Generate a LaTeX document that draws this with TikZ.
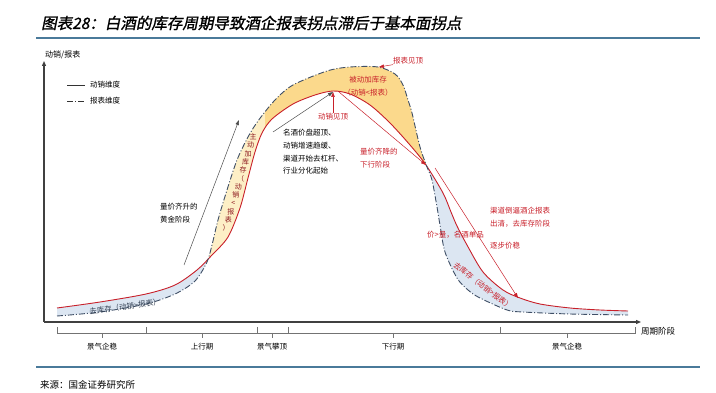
\documentclass[tikz,border=0pt]{standalone}
\usepackage{fontspec}
\setmainfont{Noto Sans CJK SC}
\newfontfamily\titlefont[FakeSlant=0.2,FakeBold=1.2]{Noto Sans CJK SC}
\usetikzlibrary{arrows.meta,positioning,calc}
\definecolor{barblue}{HTML}{4A7A9A}
\definecolor{salesred}{HTML}{C8202A}
\definecolor{rptnavy}{HTML}{3F4F66}
\definecolor{destock}{HTML}{DCE6F2}
\definecolor{activeyel}{HTML}{FDEFC6}
\definecolor{passiveyel}{HTML}{FBD98C}
\definecolor{axisgray}{HTML}{404040}
\tikzset{
  sales/.style={salesred, line width=0.9pt},
  report/.style={rptnavy, line width=0.9pt, dash pattern=on 6pt off 2pt on 1pt off 2pt},
  axis/.style={axisgray, line width=1.1pt, -{Triangle[length=5pt,width=4pt]}},
  brk/.style={black!55, line width=0.7pt},
  lbl/.style={font=\fontsize{7.5}{12.7}\selectfont, inner sep=0pt, align=left},
  redlbl/.style={lbl, text=salesred},
  ptr/.style={black!70, line width=0.5pt, -{Triangle[length=5pt,width=3.5pt]}},
  redptr/.style={salesred, line width=0.5pt, -{Triangle[length=5pt,width=3.5pt]}},
}

\begin{document}
\begin{tikzpicture}[x=1pt,y=-1pt]
  \useasboundingbox (0,0) rectangle (716,393);
  % title and frame lines
  \node[anchor=west, font=\titlefont\fontsize{15.5}{18}\selectfont, inner sep=0pt] (title) at (41,23) {图表28：白酒的库存周期导致酒企报表拐点滞后于基本面拐点};
  \draw[barblue, line width=2.2pt] (36,38) -- (700,38);
  \draw[barblue, line width=1.8pt] (36,367) -- (700,367);
  \node[anchor=west, font=\fontsize{9.5}{11}\selectfont, inner sep=0pt] (source) at (40,385) {来源：国金证券研究所};

  % the band between the two curves
  \path[save path=\bandpath] plot[smooth] coordinates {(57,308) (100,302) (146,294) (175,285) (197,270) (212,255) (228,237) (240,208) (248,178) (255,152) (262,133) (272,119) (293,104) (315,95) (333,91) (350,94) (370,105) (390,123) (410,145) (426,165) (443,193) (451,212) (457,226) (467,245) (483,272) (503,290) (520,298) (540,304) (570,308) (600,310) (628,311)}
    -- plot[smooth] coordinates {(628,315) (570,314) (523,312) (507,310) (480,298) (468,290) (457,278) (445,252) (440,225) (437,207) (432,180) (427,167) (420,147) (412,113) (408,100) (403,85) (395,74) (378,67) (350,67) (327,71) (293,85) (275,100) (258,121) (248,137) (237,160) (227,190) (218,220) (212,245) (207,262) (195,281) (175,294) (146,304) (100,312) (57,316)} -- cycle;
  \begin{scope}
    \clip (0,0) rectangle (206,393) (426,0) rectangle (716,393);
    \path[use path=\bandpath, fill=destock];
  \end{scope}
  \begin{scope}
    \clip (206,0) rectangle (265,393);
    \path[use path=\bandpath, fill=activeyel];
  \end{scope}
  \begin{scope}
    \clip (265,0) rectangle (426,393);
    \path[use path=\bandpath, fill=passiveyel];
  \end{scope}

  % sales curve and report curve
  \draw[sales] plot[smooth] coordinates {(57,308) (100,302) (146,294) (175,285) (197,270) (212,255) (228,237) (240,208) (248,178) (255,152) (262,133) (272,119) (293,104) (315,95) (333,91) (350,94) (370,105) (390,123) (410,145) (426,165) (443,193) (451,212) (457,226) (467,245) (483,272) (503,290) (520,298) (540,304) (570,308) (600,310) (628,311)};
  \draw[report] plot[smooth] coordinates {(57,316) (100,312) (146,304) (175,294) (195,281) (207,262) (212,245) (218,220) (227,190) (237,160) (248,137) (258,121) (275,100) (293,85) (327,71) (350,67) (378,67) (395,74) (403,85) (408,100) (412,113) (420,147) (427,167) (432,180) (437,207) (440,225) (445,252) (457,278) (468,290) (480,298) (507,310) (523,312) (570,314) (628,315)};

  % axes
  \coordinate (origin) at (44,322);
  \coordinate (ytop) at (44,61);
  \coordinate (xend) at (641,322);
  \draw[axis] (origin) -- (ytop);
  \draw[axis] (origin) -- (xend);
  \node[lbl, anchor=west, font=\fontsize{8}{10}\selectfont] (ylabel) at (45,55) {动销/报表};
  \node[lbl, anchor=west, font=\fontsize{8.5}{10}\selectfont] (xlabel) at (641,331) {周期阶段};

  % legend
  \draw[black!80, line width=0.8pt] (67,85) -- (85,85);
  \node[lbl, anchor=west] (legsales) at (90,85) {动销维度};
  \draw[report, black!80] (67,101) -- (85,101);
  \node[lbl, anchor=west] (legrpt) at (90,101) {报表维度};

  % phase brackets
  \foreach \a/\b/\m/\t in {57/146/102/景气企稳, 146/257/202/上行期, 257/288/272/景气攀顶, 288/500/393/下行期, 500/635/567/景气企稳}{
    \draw[brk] (\a,327) -- (\a,333) -- (\b,333) -- (\b,327);
    \draw[brk] (\m,333) -- (\m,338);
    \node[lbl] (phase\m) at (\m,347) {\t};
  }

  % band texts
  \node[lbl, text=rptnavy!80!black, rotate=8] (destockleft) at (125,307) {去库存（动销>报表）};
  \node[redlbl, rotate=-37.7] (destockright) at (483,286) {去库存（动销>报表）};
  \coordinate (activetop) at (253,137);
  \coordinate (activebot) at (226,228);
  \foreach \ch [count=\i] in {主,动,加,库,存,（,动,销,<,报,表,）}
    \node[lbl, text=salesred!70!black, font=\fontsize{7}{8}\selectfont] (active\i) at ($(activetop)!{(\i-1)/11}!(activebot)$) {\ch};
  \node[redlbl, align=center] (passive) at (368,86) {被动加库存\\（动销<报表）};

  % up-phase pointer
  \node[lbl, anchor=west] (golden) at (160,213) {量价齐升的\\黄金阶段};
  \coordinate (goldtail) at (184,265);
  \coordinate (goldhead) at (239,120);
  \draw[ptr] (goldtail) -- (goldhead);

  % peaks
  \coordinate (salespeak) at (333,92);
  \coordinate (rptpeak) at (379,67);
  \node[redlbl] (salespeaklbl) at (333,117) {动销见顶};
  \draw[redptr] (salespeaklbl.north) -- (salespeak);
  \node[redlbl, anchor=west] (rptpeaklbl) at (393,61) {报表见顶};
  \draw[redptr] (rptpeaklbl.south west) -- (rptpeak);
  \node[lbl, anchor=west] (peaktxt) at (283,152) {名酒价盘超顶、\\动销增速趋缓、\\渠道开始去杠杆、\\行业分化起始};
  \coordinate (peaktail) at (273,132);
  \draw[ptr] (peaktail) -- (salespeak);

  % down phase
  \coordinate (cross) at (426,165);
  \draw[redptr] ($(salespeak)+(6,0)$) -- (cross);
  \node[redlbl, anchor=west] (downlbl) at (360,158) {量价齐降的\\下行阶段};
  \coordinate (droptail) at (435,168);
  \coordinate (drophead) at (518,298);
  \draw[redptr] (droptail) -- (drophead);
  \node[redlbl, anchor=west] (clearlbl) at (490,217) {渠道倒逼酒企报表\\出清，去库存阶段};
  \node[redlbl, anchor=west] (pricelbl) at (427,235) {价>量，名酒单品};
  \node[redlbl, anchor=west] (stablelbl) at (490,246) {逐步价稳};
\end{tikzpicture}
\end{document}
